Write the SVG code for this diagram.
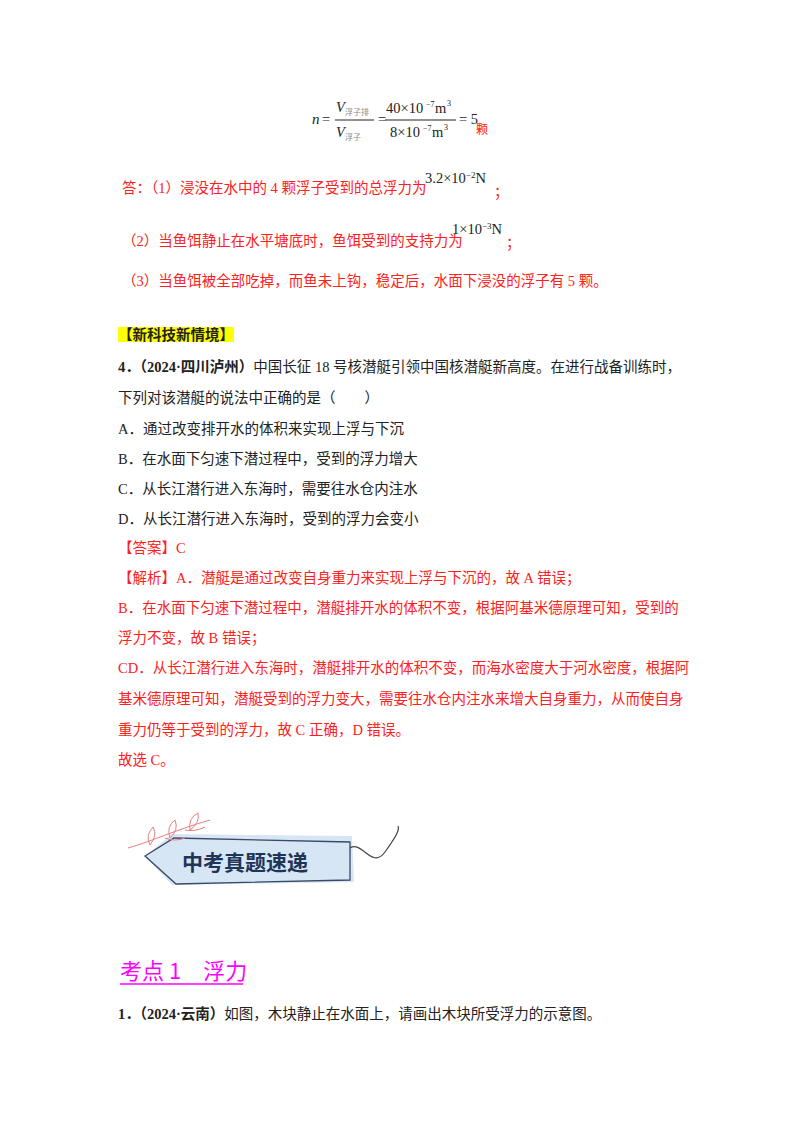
<svg xmlns="http://www.w3.org/2000/svg" width="800" height="1132" viewBox="0 0 800 1132">
<style>
svg{font-family:"Liberation Serif","Noto Sans CJK SC",serif;font-size:14.5px;fill:#222}
.r{fill:#ff2020}
</style>
<rect width="800" height="1132" fill="#fff"/>
<g id="formula">
<text x="312" y="124" font-style="italic" font-size="15">n</text>
<text x="322" y="124">=</text>
<text x="336" y="112" font-style="italic">V</text><text x="345" y="115" font-size="8" fill="#888">浮子排</text>
<line x1="335" y1="120" x2="374" y2="120" stroke="#222"/>
<text x="336" y="137" font-style="italic">V</text><text x="345" y="140" font-size="8" fill="#888">浮子</text>
<text x="378" y="124">=</text>
<text x="386" y="113">40×10</text><text x="426" y="107" font-size="8">−7</text><text x="435" y="113">m</text><text x="447" y="106" font-size="8">3</text>
<line x1="385" y1="120" x2="456" y2="120" stroke="#222"/>
<text x="390" y="137">8×10</text><text x="423" y="131" font-size="8">−7</text><text x="432" y="137">m</text><text x="444" y="130" font-size="8">3</text>
<text x="459" y="124">= 5</text>
<text x="476" y="134" class="r" font-size="12">颗</text>
</g>
<g id="answers">
<text x="122" y="193" class="r">答：（1）浸没在水中的 4 颗浮子受到的总浮力为</text>
<text x="425" y="183">3.2×10<tspan dy="-5" font-size="9">−2</tspan><tspan dy="5">N</tspan></text>
<text x="494" y="197" class="r">；</text>
<text x="122" y="246" class="r">（2）当鱼饵静止在水平塘底时，鱼饵受到的支持力为</text>
<text x="452" y="234">1×10<tspan dy="-5" font-size="9">−3</tspan><tspan dy="5">N</tspan></text>
<text x="506" y="248" class="r">；</text>
<text x="122" y="286" class="r">（3）当鱼饵被全部吃掉，而鱼未上钩，稳定后，水面下浸没的浮子有 5 颗。</text>
</g>
<g id="q4">
<rect x="118" y="327" width="116" height="15" fill="#ffff00"/>
<text x="118" y="340" font-weight="bold">【新科技新情境】</text>
<text x="118" y="372"><tspan font-weight="bold">4．（2024·四川泸州）</tspan>中国长征 18 号核潜艇引领中国核潜艇新高度。在进行战备训练时，</text>
<text x="118" y="403">下列对该潜艇的说法中正确的是（　　）</text>
<text x="118" y="434">A．通过改变排开水的体积来实现上浮与下沉</text>
<text x="118" y="464">B．在水面下匀速下潜过程中，受到的浮力增大</text>
<text x="118" y="494">C．从长江潜行进入东海时，需要往水仓内注水</text>
<text x="118" y="524">D．从长江潜行进入东海时，受到的浮力会变小</text>
<text x="118" y="553" class="r">【答案】C</text>
<text x="118" y="583" class="r">【解析】A．潜艇是通过改变自身重力来实现上浮与下沉的，故 A 错误；</text>
<text x="118" y="613" class="r">B．在水面下匀速下潜过程中，潜艇排开水的体积不变，根据阿基米德原理可知，受到的</text>
<text x="118" y="643" class="r">浮力不变，故 B 错误；</text>
<text x="118" y="673" class="r">CD．从长江潜行进入东海时，潜艇排开水的体积不变，而海水密度大于河水密度，根据阿</text>
<text x="118" y="704" class="r">基米德原理可知，潜艇受到的浮力变大，需要往水仓内注水来增大自身重力，从而使自身</text>
<text x="118" y="735" class="r">重力仍等于受到的浮力，故 C 正确，D 错误。</text>
<text x="118" y="765" class="r">故选 C。</text>
</g>
<g id="banner">
<polygon points="145,856 172,834 352,836 354,882 172,885" fill="#d6e6f5"/>
<polygon points="145,856 174,838 350,842 350,880 176,884" fill="none" stroke="#3a4a66" stroke-width="1.3"/>
<path d="M350 848 C 362 840, 372 870, 385 852 C 395 838, 400 830, 398 826" fill="none" stroke="#444" stroke-width="1.2"/>
<g stroke="#e58080" fill="none" stroke-width="1">
<path d="M128 848 C 150 842, 175 830, 210 820"/>
<path d="M150 845 q -5 -10 3 -18 q 5 8 -3 18"/>
<path d="M170 838 q -4 -12 5 -18 q 4 10 -5 18"/>
<path d="M190 830 q -2 -12 8 -17 q 2 10 -8 17"/>
<path d="M165 838 q 10 4 20 0"/>
<path d="M185 830 q 10 2 20 -3"/>
</g>
<text x="182" y="870" font-family="Noto Sans CJK SC,sans-serif" font-weight="bold" font-size="21" fill="#1e3558">中考真题速递</text>
</g>
<g id="section">
<text x="120" y="979" font-size="22" fill="#ff00ff" font-family="Noto Sans CJK SC,sans-serif">考点 1　浮力</text>
<line x1="120" y1="984" x2="243" y2="984" stroke="#ff00ff" stroke-width="1.5"/>
<text x="118" y="1019"><tspan font-weight="bold">1．（2024·云南）</tspan>如图，木块静止在水面上，请画出木块所受浮力的示意图。</text>
</g>
</svg>
